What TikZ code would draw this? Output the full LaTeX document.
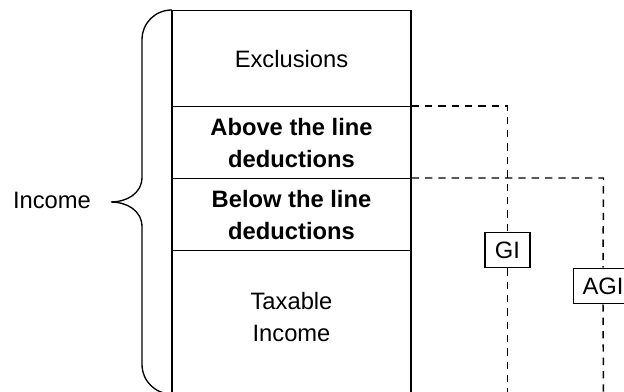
\documentclass[tikz,border=0pt]{standalone}
\usepackage{fontspec}
\setmainfont{Liberation Sans}
\begin{document}
\begin{tikzpicture}[x=0.75pt,y=-0.75pt,
  line width=1pt,
  txt/.style={font=\fontsize{17.8}{24}\selectfont, align=center, inner sep=0pt},
  cell/.style={draw, minimum width=179.25pt, anchor=north, inner sep=0pt, txt},
  bcell/.style={cell, font=\fontsize{17.8}{24}\selectfont\bfseries},
  lbl/.style={draw, fill=white, txt, minimum height=26.5pt, inner xsep=7.5pt},
  conn/.style={dash pattern=on 5.5pt off 4.5pt, line width=1.1pt}]
\useasboundingbox (0,0) rectangle (624,392);
\clip (0,0) rectangle (624,392);
\node[cell, minimum height=72pt] (excl) at (291.5,10) {Exclusions};
\node[bcell, minimum height=54pt] (above) at (291.5,106) {Above the line\\deductions};
\node[bcell, minimum height=54pt] (below) at (291.5,178) {Below the line\\deductions};
\node[cell, minimum height=108pt] (tax) at (291.5,250) {};
\node[txt] (taxtext) at (291.5,317) {Taxable\\Income};
\node[txt] (income) at (52,200) {Income};
% brace
\draw (172,10) .. controls (155,10) and (142,23) .. (142,40) -- (142,177)
  .. controls (142,194) and (126,202) .. (111,202)
  .. controls (126,202) and (142,210) .. (142,227) -- (142,364)
  .. controls (142,381) and (155,394) .. (172,394);
% labels
\node[lbl] (gi) at (507.5,250) {GI};
\node[lbl, inner xsep=7pt] (agi) at (603,286) {AGI};
\coordinate (c1) at (507.5,106);
\coordinate (c2) at (603.5,178);
\coordinate (e1) at (507.5,400);
\coordinate (e2) at (603.5,400);
\draw[conn] (above.north east) -- (c1) -- (gi.north);
\draw[conn] (gi.south) -- (e1);
\draw[conn] (below.north east) -- (c2) -- (agi.north);
\draw[conn] (agi.south) -- (e2);
\end{tikzpicture}
\end{document}
